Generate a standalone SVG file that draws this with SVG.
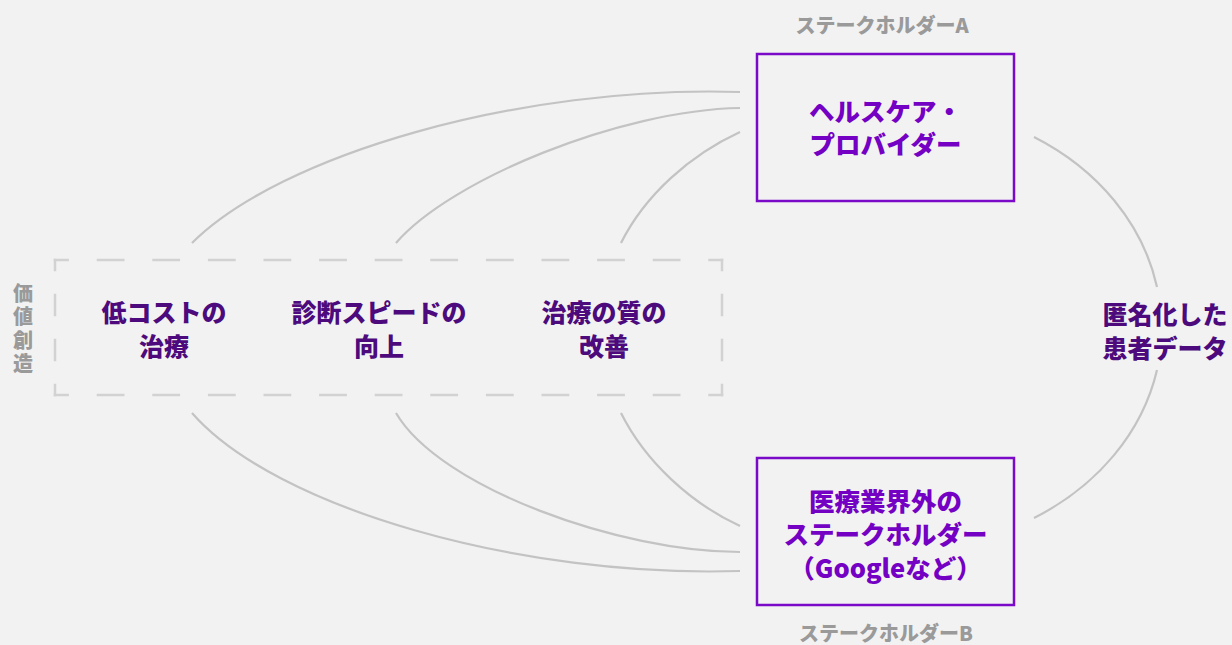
<svg xmlns="http://www.w3.org/2000/svg" width="1232" height="645" viewBox="0 0 1232 645">
<style>
text{font-family:"Noto Sans CJK JP","Noto Sans",sans-serif;font-weight:900;text-anchor:middle}
.box{fill:none;stroke:#7a0ac8;stroke-width:2.5}
.bt{font-size:25.5px;fill:#7400c4}
.vt{font-size:25px;fill:#4c0a7c}
.gl{font-size:20px;fill:#9a9a9a}
.cn{fill:none;stroke:#c3c3c3;stroke-width:2.2}
.dh{stroke:#d2d2d2;stroke-width:2.5;fill:none}
</style>
<rect width="1232" height="645" fill="#f2f2f2"/>
<g id="connectors">
<path class="cn" d="M192,243 C280,155 520,85 740,92"/>
<path class="cn" d="M396,243 C450,180 620,110 740,108"/>
<path class="cn" d="M621,243 C645,195 690,155 740,132"/>
<path class="cn" d="M192,413 C275,508 520,578 740,571"/>
<path class="cn" d="M396,413 C440,488 620,552 740,552"/>
<path class="cn" d="M621,413 C645,461 690,503 740,526"/>
<path class="cn" d="M1034,137 A261.5,222.4 0 0 1 1157,287"/>
<path class="cn" d="M1157,370 A261.5,222.4 0 0 1 1034,518"/>
<text class="vt" x="1165" y="324">匿名化した<tspan x="1165" dy="33.5">患者データ</tspan></text>
</g>
<g id="value-creation">
<line class="dh" x1="53.75" y1="260" x2="723.25" y2="260" stroke-dasharray="27.8 27.8" stroke-dashoffset="12.65"/>
<line class="dh" x1="53.75" y1="395" x2="723.25" y2="395" stroke-dasharray="27.8 27.8" stroke-dashoffset="12.65"/>
<line class="dh" x1="55" y1="258.75" x2="55" y2="396.25" stroke-dasharray="22.5 22.5" stroke-dashoffset="10"/>
<line class="dh" x1="722" y1="258.75" x2="722" y2="396.25" stroke-dasharray="22.5 22.5" stroke-dashoffset="10"/>
<text class="gl" x="23" y="330" writing-mode="vertical-rl" letter-spacing="3.5">価値創造</text>
</g>
<g id="node-low-cost">
<text class="vt" x="164" y="321.5">低コストの<tspan x="164" dy="34">治療</tspan></text>
</g>
<g id="node-diagnosis-speed">
<text class="vt" x="379" y="321.5">診断スピードの<tspan x="379" dy="34">向上</tspan></text>
</g>
<g id="node-treatment-quality">
<text class="vt" x="604" y="321.5">治療の質の<tspan x="604" dy="34">改善</tspan></text>
</g>
<g id="node-stakeholder-a">
<text class="gl" x="882" y="32.5">ステークホルダーA</text>
<rect class="box" x="757" y="54" width="257" height="147"/>
<text class="bt" x="885.5" y="120.5">ヘルスケア・<tspan x="885.5" dy="33.5">プロバイダー</tspan></text>
</g>
<g id="node-stakeholder-b">
<rect class="box" x="757" y="458" width="257" height="147"/>
<text class="bt" x="885.5" y="510.5">医療業界外の<tspan x="885.5" dy="33.5">ステークホルダー</tspan><tspan x="885.5" dy="33.5">（Googleなど）</tspan></text>
<text class="gl" x="886" y="641">ステークホルダーB</text>
</g>
</svg>
